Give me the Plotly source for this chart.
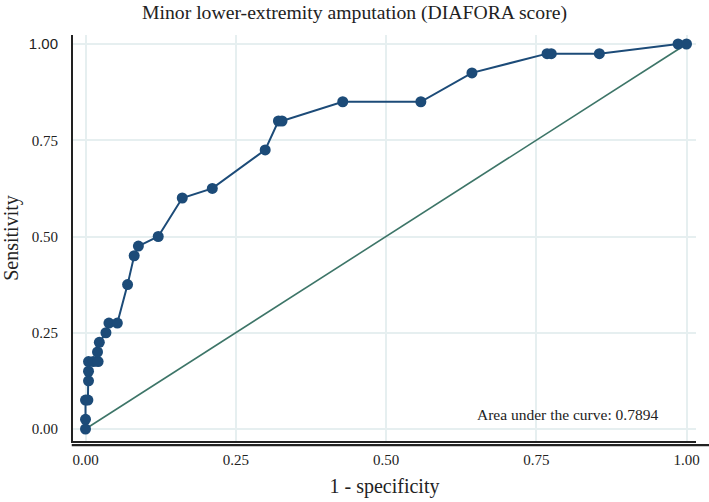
import plotly.graph_objects as go

# ROC points (1 - specificity, sensitivity)
fpr = [0.0, 0.0, 0.0, 0.004, 0.005, 0.005, 0.005, 0.013, 0.021, 0.020, 0.023,
       0.034, 0.039, 0.053, 0.070, 0.081, 0.088, 0.121, 0.161, 0.211, 0.299,
       0.321, 0.327, 0.428, 0.558, 0.643, 0.768, 0.775, 0.855, 0.986, 1.0]
tpr = [0.0, 0.025, 0.075, 0.075, 0.125, 0.15, 0.175, 0.175, 0.175, 0.2, 0.225,
       0.25, 0.275, 0.275, 0.375, 0.45, 0.475, 0.50, 0.60, 0.625, 0.725,
       0.80, 0.80, 0.85, 0.85, 0.925, 0.975, 0.975, 0.975, 1.0, 1.0]
ref_x = [0.0, 1.0]
ref_y = [0.0, 1.0]
tick_vals = [0.0, 0.25, 0.5, 0.75, 1.0]
x_tick_text = ["0.00", "0.25", "0.50", "0.75", "1.00"]
y_tick_text = ["0.00", "0.25", "0.50", "0.75",
               "<span style='font-family:Liberation Sans'>1.00</span>"]
auc_text = "Area under the curve: 0.7894"
title_text = "Minor lower-extremity amputation (DIAFORA score)"

SERIF = "Liberation Serif, Times New Roman, serif"
NAVY = "#1c4b78"
GREEN = "#3d7568"
GRID = "#e6eff0"

fig = go.Figure()
fig.add_trace(go.Scatter(x=ref_x, y=ref_y, mode="lines",
                         line=dict(color=GREEN, width=1.6),
                         showlegend=False, hoverinfo="skip"))
fig.add_trace(go.Scatter(x=fpr, y=tpr, mode="lines+markers",
                         line=dict(color=NAVY, width=2),
                         marker=dict(color=NAVY, size=11),
                         showlegend=False))

fig.update_layout(
    width=709, height=502,
    margin=dict(l=73, r=13, t=35, b=61, autoexpand=False),
    paper_bgcolor="white", plot_bgcolor="white",
    font=dict(family=SERIF, color="#222222", size=15),
    title=dict(text=title_text, x=0.5, xref="container", xanchor="center",
               y=0.976, yref="container", yanchor="middle", automargin=False,
               font=dict(family=SERIF, size=19.7, color="#222222")),
    xaxis=dict(range=[-0.0208, 1.0158], tickvals=tick_vals, ticktext=x_tick_text,
               automargin=False,
               showgrid=True, gridcolor=GRID, gridwidth=1.5, zeroline=False,
               showline=True, linecolor="#222222", linewidth=1.5,
               ticks="", ticklabelstandoff=4,
               title=dict(text="1 - specificity", font=dict(size=20), standoff=12),
               tickfont=dict(size=15)),
    yaxis=dict(range=[-0.0312, 1.0234], tickvals=tick_vals, ticktext=y_tick_text,
               automargin=False,
               showgrid=True, gridcolor=GRID, gridwidth=1.5, zeroline=False,
               showline=True, linecolor="#222222", linewidth=2,
               ticks="", ticklabelstandoff=10,
               title=dict(text="Sensitivity", font=dict(size=20), standoff=8),
               tickfont=dict(size=15)),
    annotations=[dict(text=auc_text, xref="paper", yref="paper",
                      x=0.794, y=0.065, xanchor="center", yanchor="middle",
                      showarrow=False, font=dict(family=SERIF, size=15.5, color="#222222"))],
    shapes=[dict(type="line", xref="paper", yref="paper",
                 x0=-0.002, x1=1.03, y0=-0.01, y1=-0.01,
                 line=dict(color="#222222", width=2.2))],
)

fig.write_html("out.html", config={"displayModeBar": False},
               post_script="document.body.style.margin='0';"
                           "document.body.style.overflow='hidden';")
